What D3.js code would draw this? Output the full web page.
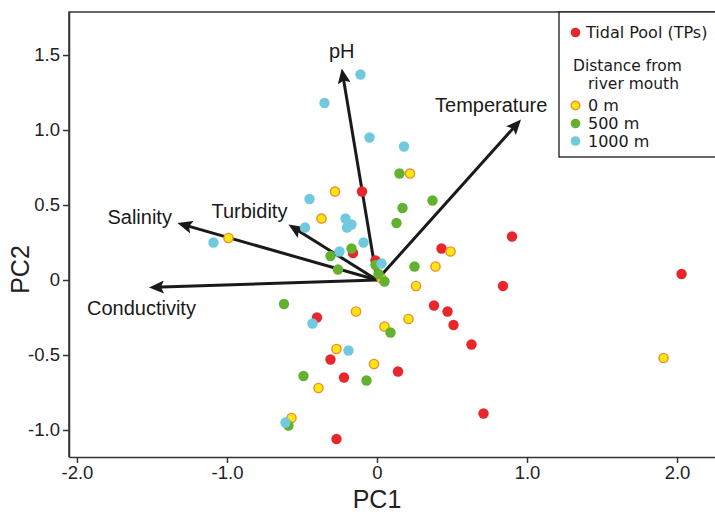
<!DOCTYPE html>
<html>
<head>
<meta charset="utf-8">
<script src="https://cdn.jsdelivr.net/npm/d3@7"></script>
<style>
  body { margin: 0; background: #fff; }
  svg { display: block; }
</style>
</head>
<body>
<div class="chart"></div>
<script>
// PCA scores, [PC1, PC2]
const tidalPool = [[2.03,0.04],[0.90,0.29],[0.84,-0.04],[0.71,-0.89],[0.63,-0.43],[0.43,0.21],[0.38,-0.17],[0.47,-0.21],[0.51,-0.30],[0.14,-0.61],[-0.10,0.59],[-0.16,0.18],[-0.01,0.13],[-0.40,-0.25],[-0.31,-0.53],[-0.22,-0.65],[-0.27,-1.06]];
const river0 = [[1.91,-0.52],[0.49,0.19],[0.39,0.09],[0.26,-0.04],[0.22,0.71],[0.21,-0.26],[0.05,-0.31],[0.03,0.01],[-0.02,-0.56],[-0.14,-0.21],[-0.27,-0.46],[-0.28,0.59],[-0.37,0.41],[-0.39,-0.72],[-0.57,-0.92],[-0.99,0.28]];
const river500 = [[0.37,0.53],[0.15,0.71],[0.17,0.48],[0.13,0.38],[0.25,0.09],[0.09,-0.35],[0.05,-0.01],[0.01,0.04],[-0.01,0.10],[-0.17,0.21],[-0.31,0.16],[-0.26,0.07],[-0.07,-0.67],[-0.49,-0.64],[-0.62,-0.16],[-0.59,-0.97]];
const river1000 = [[-0.11,1.37],[-0.35,1.18],[-0.05,0.95],[0.18,0.89],[-0.45,0.54],[-0.21,0.41],[-0.20,0.35],[-0.17,0.37],[-0.48,0.35],[-1.09,0.25],[-0.09,0.25],[-0.25,0.19],[0.03,0.11],[-0.43,-0.29],[-0.19,-0.47],[-0.61,-0.95]];

// loading vectors
const loadingNames = ["pH","Temperature","Salinity","Turbidity","Conductivity"];
const loadingPC1 = [-0.235, 0.96, -1.33, -0.59, -1.52];
const loadingPC2 = [1.41, 1.07, 0.38, 0.37, -0.05];

const xTicks = [-2, -1, 0, 1, 2];
const yTicks = [-1, -0.5, 0, 0.5, 1, 1.5];

const W = 715, H = 516;
const margin = {top: 12, left: 69, bottom: 59};

const svg = d3.select(".chart").append("svg")
    .attr("width", W).attr("height", H);

const x = d3.scaleLinear().domain([-2.053, 2.253]).range([margin.left, W]);
const y = d3.scaleLinear().domain([-1.18, 1.787]).range([H - margin.bottom, margin.top]);

// plain hyphen for negatives, like the original
const fmt = d => d === 0 ? "0" : (d < 0 ? "-" : "") + Math.abs(d).toFixed(1);

// frame (top + left)
svg.append("path")
    .attr("d", `M${W},${margin.top}H${margin.left}V${H - margin.bottom}`)
    .attr("fill", "none").attr("stroke", "#333").attr("stroke-width", 1.5);

const xAxis = svg.append("g")
    .attr("transform", `translate(0,${H - margin.bottom})`)
    .call(d3.axisBottom(x).tickValues(xTicks).tickFormat(fmt).tickSizeOuter(0));
const yAxis = svg.append("g")
    .attr("transform", `translate(${margin.left},0)`)
    .call(d3.axisLeft(y).tickValues(yTicks).tickFormat(fmt).tickSizeOuter(0));

[xAxis, yAxis].forEach(g => {
  g.select(".domain").attr("stroke", "#333").attr("stroke-width", 1.5);
  g.selectAll(".tick line").attr("stroke", "#333").attr("stroke-width", 1.5);
  g.selectAll("text")
    .attr("font-family", "'Liberation Sans', Arial, sans-serif")
    .attr("font-size", 18.5).attr("fill", "#222");
});

svg.append("text")
    .attr("x", x(0)).attr("y", 508)
    .attr("text-anchor", "middle")
    .attr("font-family", "'Liberation Sans', Arial, sans-serif")
    .attr("font-size", 25).attr("fill", "#222")
    .text("PC1");
svg.append("text")
    .attr("transform", `translate(29,${y(0.07)}) rotate(-90)`)
    .attr("text-anchor", "middle")
    .attr("font-family", "'Liberation Sans', Arial, sans-serif")
    .attr("font-size", 25).attr("fill", "#222")
    .text("PC2");

// arrows
svg.append("defs").append("marker")
    .attr("id", "head")
    .attr("markerUnits", "userSpaceOnUse")
    .attr("viewBox", "0 0 15 13")
    .attr("markerWidth", 15).attr("markerHeight", 13)
    .attr("refX", 15).attr("refY", 6.5)
    .attr("orient", "auto")
  .append("path")
    .attr("d", "M0,0L15,6.5L0,13L3,6.5Z")
    .attr("fill", "#1a1a1a");

const loadings = loadingNames.map((n, i) => ({name: n, pc1: loadingPC1[i], pc2: loadingPC2[i]}));

svg.append("g").selectAll("path")
  .data(loadings)
  .join("path")
    .attr("fill", "none")
    .attr("stroke", "#1a1a1a")
    .attr("stroke-width", 3)
    .attr("marker-end", "url(#head)")
    .each(function(d) {
      const x0 = x(0), y0 = y(0), x1 = x(d.pc1), y1 = y(d.pc2);
      const len = Math.hypot(x1 - x0, y1 - y0);
      // stop the stroke short of the tip so the head stays sharp
      d3.select(this)
        .attr("d", `M${x0},${y0}L${x1 - (x1 - x0) / len * 5},${y1 - (y1 - y0) / len * 5}L${x1},${y1}`)
        .attr("stroke-dasharray", `${len - 5},100`);
    });

// label offsets from arrow tip (px)
const labelPos = {
  "pH": {dx: 0, dy: -11, anchor: "middle"},
  "Temperature": {dx: -86, dy: -8, anchor: "start"},
  "Salinity": {dx: -70, dy: 1, anchor: "start"},
  "Turbidity": {dx: -77, dy: -7, anchor: "start"},
  "Conductivity": {dx: -62, dy: 27, anchor: "start"}
};

svg.append("g").selectAll("text")
  .data(loadings)
  .join("text")
    .attr("x", d => x(d.pc1) + labelPos[d.name].dx)
    .attr("y", d => y(d.pc2) + labelPos[d.name].dy)
    .attr("text-anchor", d => labelPos[d.name].anchor)
    .attr("font-family", "'Liberation Sans', Arial, sans-serif")
    .attr("font-size", 20).attr("fill", "#1a1a1a")
    .text(d => d.name);

// points
const groups = [
  {data: tidalPool, fill: "#e8262b", stroke: "none"},
  {data: river0, fill: "#fce70f", stroke: "#f08a2a"},
  {data: river500, fill: "#62b22f", stroke: "none"},
  {data: river1000, fill: "#71c9de", stroke: "none"}
];

groups.forEach(gr => {
  svg.append("g").selectAll("circle")
    .data(gr.data)
    .join("circle")
      .attr("cx", d => x(d[0]))
      .attr("cy", d => y(d[1]))
      .attr("r", gr.stroke === "none" ? 5.2 : 4.6)
      .attr("fill", gr.fill)
      .attr("stroke", gr.stroke)
      .attr("stroke-width", 1.4);
});

// legend
const lg = svg.append("g");
lg.append("rect")
    .attr("x", 559).attr("y", margin.top)
    .attr("width", 170).attr("height", 145)
    .attr("fill", "#fff").attr("stroke", "#1a1a1a").attr("stroke-width", 1.3);

const legendFont = "'DejaVu Sans', Verdana, sans-serif";
const legendItems = [
  {label: "Tidal Pool (TPs)", fill: "#e8262b", stroke: "none", cy: 32.5, ty: 38},
  {label: "0 m", fill: "#fce70f", stroke: "#f08a2a", cy: 105.5, ty: 111},
  {label: "500 m", fill: "#62b22f", stroke: "none", cy: 123.5, ty: 129},
  {label: "1000 m", fill: "#71c9de", stroke: "none", cy: 141, ty: 147}
];
legendItems.forEach(it => {
  lg.append("circle")
      .attr("cx", 575.5).attr("cy", it.cy)
      .attr("r", it.stroke === "none" ? 4.8 : 4.3)
      .attr("fill", it.fill).attr("stroke", it.stroke).attr("stroke-width", 1.4);
  lg.append("text")
      .attr("x", it.label === "Tidal Pool (TPs)" ? 586 : 588).attr("y", it.ty)
      .attr("font-family", legendFont).attr("font-size", 16).attr("fill", "#1a1a1a")
      .text(it.label);
});
lg.append("text")
    .attr("x", 573).attr("y", 71)
    .attr("font-family", legendFont).attr("font-size", 15.5).attr("fill", "#1a1a1a")
    .text("Distance from");
lg.append("text")
    .attr("x", 588).attr("y", 89)
    .attr("font-family", legendFont).attr("font-size", 15.5).attr("fill", "#1a1a1a")
    .text("river mouth");
</script>
</body>
</html>
